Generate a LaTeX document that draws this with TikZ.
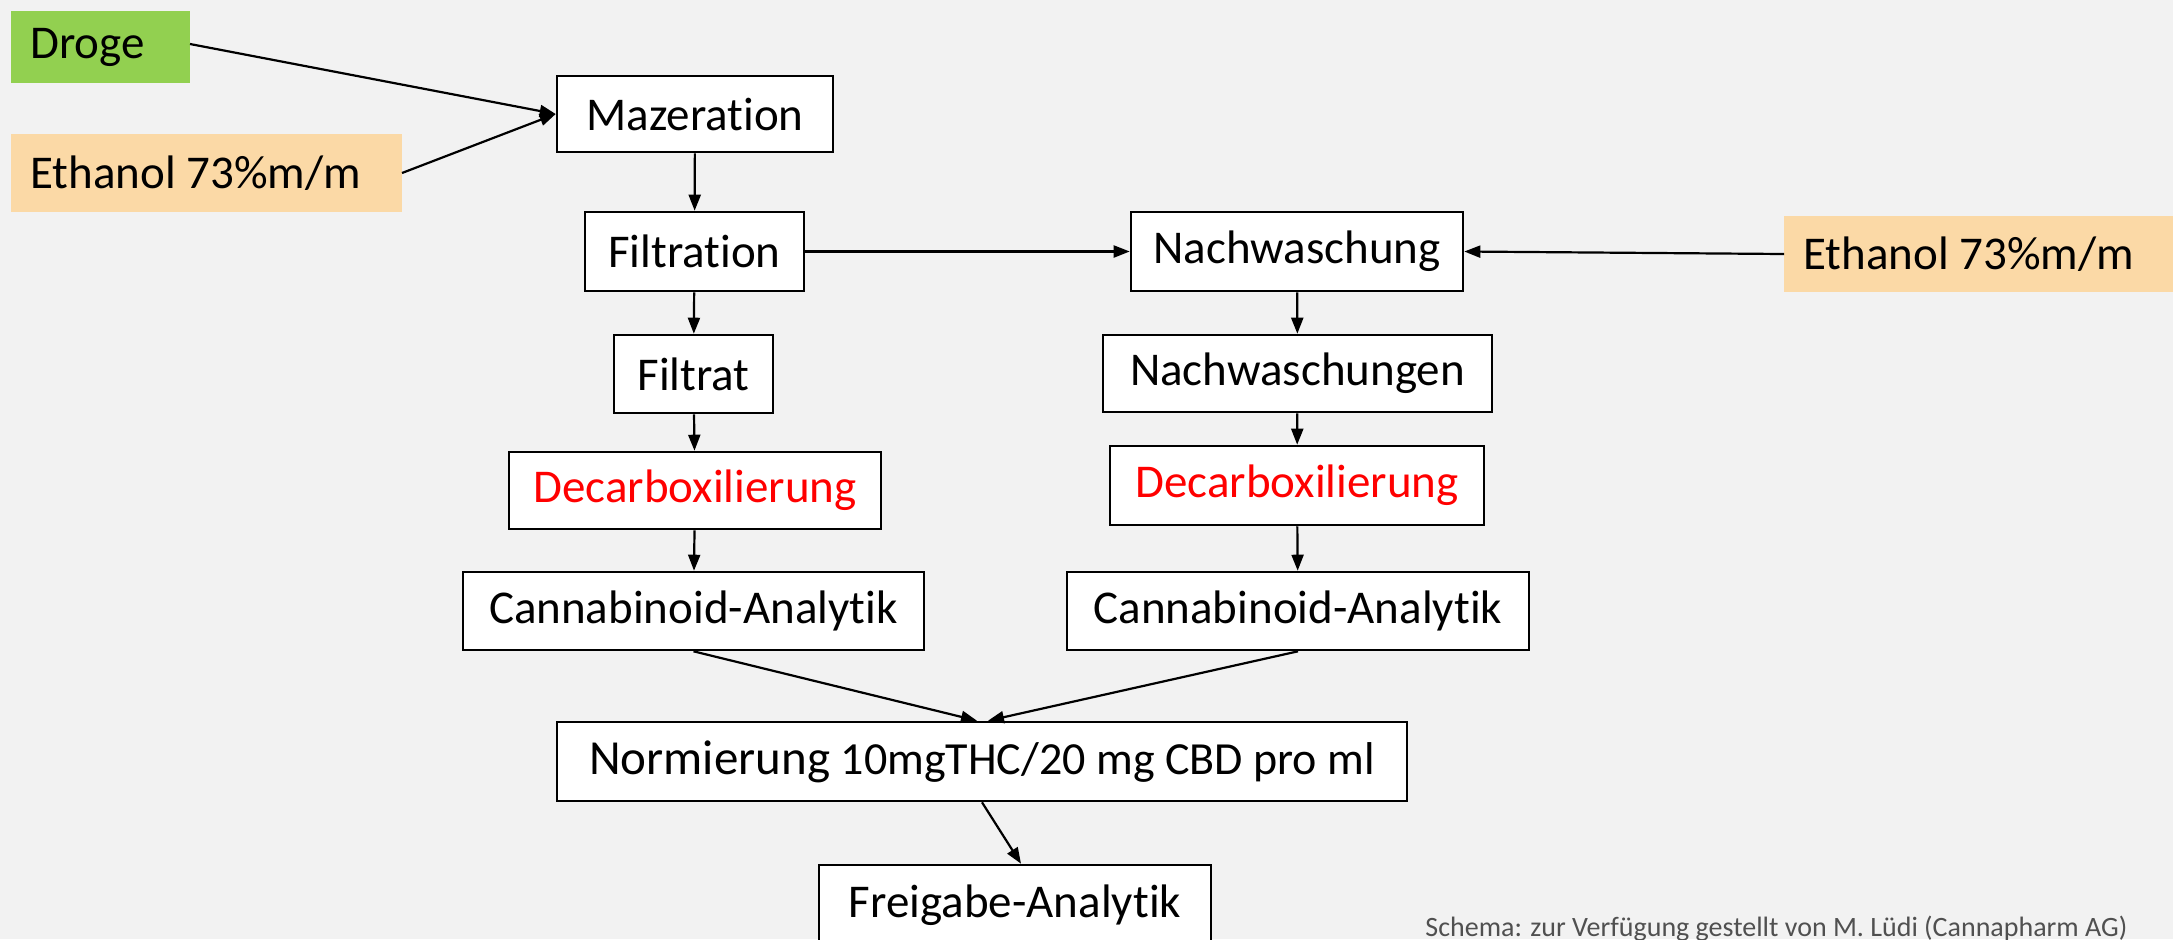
\documentclass[tikz,border=0pt]{standalone}
\usepackage{fontspec}
\setmainfont[Ligatures=NoCommon]{Carlito}
\usetikzlibrary{arrows.meta,calc}
\definecolor{bg}{HTML}{F2F2F2}
\definecolor{drogegreen}{HTML}{92D050}
\definecolor{ethorange}{HTML}{FBD9A6}
\definecolor{notegray}{HTML}{505050}
\tikzset{
  box/.style={draw=black,line width=1.3pt,fill=white,inner sep=0pt,font=\fontsize{23.5}{28}\selectfont},
  lbl/.style={anchor=west,inner sep=0pt,font=\fontsize{23.5}{28}\selectfont},
  arr/.style={line width=1.1pt,-{Triangle[length=8pt,width=6pt]}},
}
\newcommand{\bx}[5]{\node[box,minimum width=#3*0.5pt,minimum height=#4*0.5pt] (#1) at (#2) {#5};}
\begin{document}
\begin{tikzpicture}[x=0.5pt,y=-0.5pt]
\fill[bg] (0,0) rectangle (2173,939);
\useasboundingbox (0,0) rectangle (2173,939);
% coloured input boxes
\fill[drogegreen] (11,11) rectangle (190,83);
\node[lbl] (droge) at (30,47) {Droge};
\coordinate (drogeE) at (190,44);
\fill[ethorange] (11,134) rectangle (402,212);
\node[lbl] (ethL) at (30,173) {Ethanol 73\%m/m};
\coordinate (ethLE) at (402,173);
\fill[ethorange] (1784,216) rectangle (2180,292);
\node[lbl] (ethR) at (1803,254) {Ethanol 73\%m/m};
\coordinate (ethRW) at (1784,254);
% process boxes
\bx{maz}{695,114}{276}{76}{Mazeration}
\bx{filt}{694.5,251.5}{219}{79}{Filtration}
\bx{nachw}{1297,251.5}{332}{79}{Nachwaschung}
\bx{filtrat}{693.5,374}{159}{78}{Filtrat}
\bx{nachws}{1297.5,373.5}{389}{77}{Nachwaschungen}
\bx{decL}{695,490.5}{372}{77}{\textcolor{red}{Decarboxilierung}}
\bx{decR}{1297,485.5}{374}{79}{\textcolor{red}{Decarboxilierung}}
\bx{canL}{693.5,611}{461}{78}{Cannabinoid-Analytik}
\bx{canR}{1298,611}{462}{78}{Cannabinoid-Analytik}
\bx{norm}{982,761.5}{850}{79}{{\fontsize{24.5}{28}\selectfont Normierung} {\fontsize{23}{28}\selectfont 10mgTHC/20 mg CBD pro ml}}
\bx{frei}{1015,905}{392}{80}{Freigabe-Analytik}
\node[anchor=west,inner sep=0pt,text=notegray,font=\fontsize{14}{16}\selectfont] (note) at (1425,929) {Schema: zur Verfügung gestellt von M. Lüdi (Cannapharm AG)};
% connectors
\draw[arr] (drogeE) -- (maz.west);
\draw[arr] (ethLE) -- (maz.west);
\draw[arr] (maz) -- (filt);
\draw[arr] (filt) -- (nachw);
\draw[arr] (ethRW) -- (nachw.east);
\draw[arr] (filt) -- (filtrat);
\draw[arr] (filtrat) -- (decL);
\draw[arr] (decL) -- (canL);
\draw[arr] (nachw) -- (nachws);
\draw[arr] (nachws) -- (decR);
\draw[arr] (decR) -- (canR);
\draw[arr] (canL.south) -- ($(norm.north)+(-5,0)$);
\draw[arr] (canR.south) -- ($(norm.north)+(6,0)$);
\draw[arr] (norm.south) -- ($(frei.north)+(6,0)$);
\end{tikzpicture}
\end{document}
